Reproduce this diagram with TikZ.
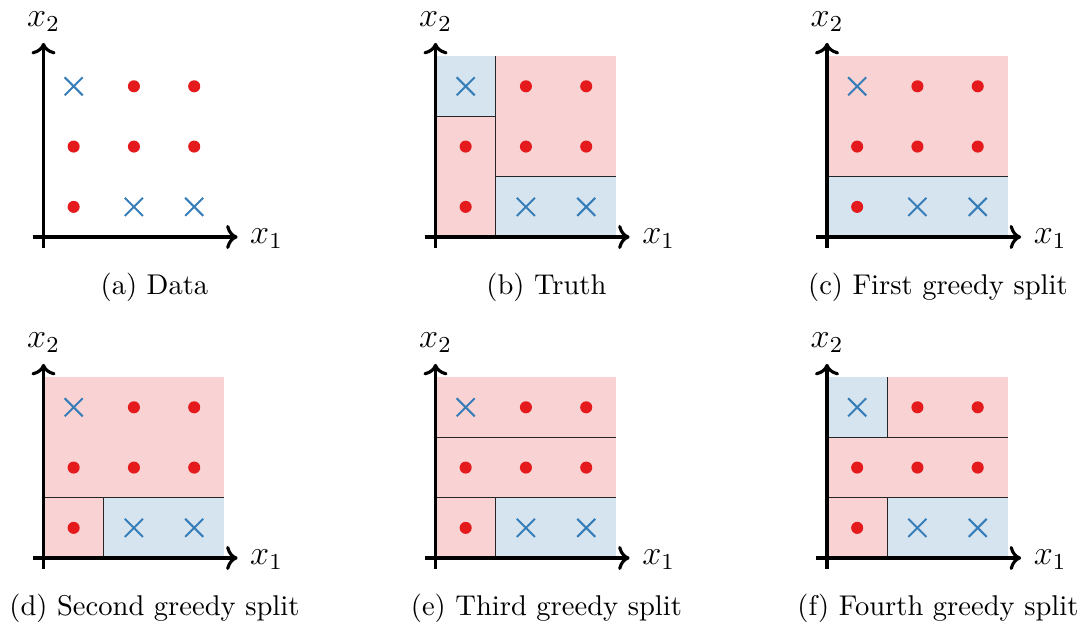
\documentclass[tikz,border=0pt]{standalone}
\usetikzlibrary{arrows.meta}
\definecolor{dotred}{RGB}{228,26,28}
\definecolor{crossblue}{RGB}{55,126,184}
\definecolor{redfill}{RGB}{249,210,211}
\definecolor{bluefill}{RGB}{214,228,240}
\tikzset{
  axisline/.style={line width=1.1pt,->},
  splitline/.style={line width=0.45pt,black!85},
  redreg/.style={fill=redfill},
  bluereg/.style={fill=bluefill},
  dotpt/.style={fill=dotred},
  crosspt/.style={draw=crossblue,line width=0.7pt},
  capt/.style={anchor=base,inner sep=0pt},
  axlabel/.style={inner sep=0pt,font=\large},
  panel/.style={x=21.1pt,y=21.1pt}
}
\newcommand\pdot[2]{\fill[dotpt] (#1,#2) circle (0.1);}
\newcommand\pcross[2]{\draw[crosspt] (#1-0.15,#2-0.15) -- (#1+0.15,#2+0.15) (#1-0.15,#2+0.15) -- (#1+0.15,#2-0.15);}
\newcommand\allpts{\pcross{0.5}{2.5}\pdot{1.5}{2.5}\pdot{2.5}{2.5}%
  \pdot{0.5}{1.5}\pdot{1.5}{1.5}\pdot{2.5}{1.5}%
  \pdot{0.5}{0.5}\pcross{1.5}{0.5}\pcross{2.5}{0.5}}
\newcommand\axesdraw[2]{%
  \draw[axisline] (-0.18,0) -- (3.22,0);
  \draw[axisline] (0,-0.18) -- (0,3.22);
  \node[axlabel,anchor=base west] (#1xa) at (3.42,-0.1) {$x_1$};
  \node[axlabel,anchor=base] (#1xb) at (0,3.5) {$x_2$};
  \node[capt] (#1cap) at (1.84,-0.95) {#2};
  \allpts}
\begin{document}
\begin{tikzpicture}[x=0.35pt,y=-0.35pt]
\useasboundingbox (0,0) rectangle (1081,622);
% (a)
\begin{scope}[shift={(43.5,237)},panel]
  \axesdraw{a}{(a) Data}
\end{scope}
% (b)
\begin{scope}[shift={(435.5,237)},panel]
  \fill[redreg] (0,0) rectangle (1,2);
  \fill[bluereg] (0,2) rectangle (1,3);
  \fill[redreg] (1,1) rectangle (3,3);
  \fill[bluereg] (1,0) rectangle (3,1);
  \draw[splitline] (1,0) -- (1,3) (0,2) -- (1,2) (1,1) -- (3,1);
  \axesdraw{b}{(b) Truth}
\end{scope}
% (c)
\begin{scope}[shift={(827,237)},panel]
  \fill[bluereg] (0,0) rectangle (3,1);
  \fill[redreg] (0,1) rectangle (3,3);
  \draw[splitline] (0,1) -- (3,1);
  \axesdraw{c}{(c) First greedy split}
\end{scope}
% (d)
\begin{scope}[shift={(43.5,558)},panel]
  \fill[redreg] (0,0) rectangle (1,1);
  \fill[bluereg] (1,0) rectangle (3,1);
  \fill[redreg] (0,1) rectangle (3,3);
  \draw[splitline] (0,1) -- (3,1) (1,0) -- (1,1);
  \axesdraw{d}{(d) Second greedy split}
\end{scope}
% (e)
\begin{scope}[shift={(435.5,558)},panel]
  \fill[redreg] (0,0) rectangle (1,1);
  \fill[bluereg] (1,0) rectangle (3,1);
  \fill[redreg] (0,1) rectangle (3,3);
  \draw[splitline] (0,1) -- (3,1) (1,0) -- (1,1) (0,2) -- (3,2);
  \axesdraw{e}{(e) Third greedy split}
\end{scope}
% (f)
\begin{scope}[shift={(827,558)},panel]
  \fill[redreg] (0,0) rectangle (1,1);
  \fill[bluereg] (1,0) rectangle (3,1);
  \fill[redreg] (0,1) rectangle (3,2);
  \fill[bluereg] (0,2) rectangle (1,3);
  \fill[redreg] (1,2) rectangle (3,3);
  \draw[splitline] (0,1) -- (3,1) (1,0) -- (1,1) (0,2) -- (3,2) (1,2) -- (1,3);
  \axesdraw{f}{(f) Fourth greedy split}
\end{scope}
\end{tikzpicture}
\end{document}
